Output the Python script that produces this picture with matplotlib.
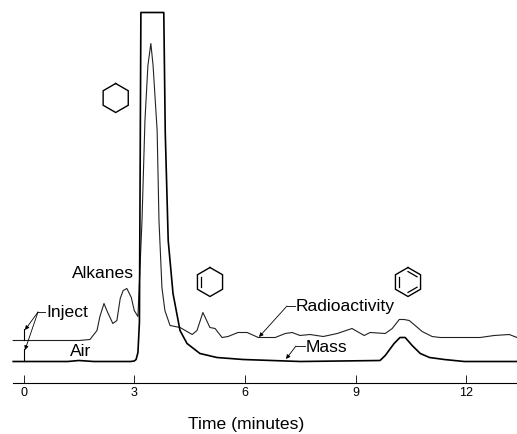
import numpy as np
import matplotlib
matplotlib.use('Agg')
import matplotlib.pyplot as plt

plt.rcParams['font.family'] = ['Liberation Sans', 'DejaVu Sans']

# traces: time in minutes, signal in arbitrary units
mass_time = [-0.28, 1.2, 1.35, 1.5, 1.7, 1.9, 2.9, 3.0, 3.05, 3.1, 3.14, 3.18, 3.8, 3.84, 3.92, 4.05,
             4.24, 4.43, 4.78, 5.24, 5.95, 7.5, 9.66, 9.8, 10.04, 10.2, 10.34, 10.53, 10.75, 11.0,
             11.4, 11.94, 13.37]
mass_signal = [21, 21, 21.5, 22, 21.5, 21, 21, 21.5, 23, 30, 60, 370, 370, 250, 142, 89,
               52, 39, 29, 25, 23, 21, 22, 27, 39, 45, 45, 37, 29, 25,
               23, 21, 21]

radio_time = [-0.28, 1.5, 1.8, 1.99, 2.07, 2.18, 2.28, 2.42, 2.53, 2.62, 2.7, 2.8, 2.92, 3.0, 3.1, 3.21, 3.29,
              3.37, 3.45, 3.51, 3.62, 3.67, 3.75, 3.83, 3.97, 4.24, 4.57, 4.7, 4.86, 5.05, 5.19,
              5.38, 5.54, 5.81, 6.06, 6.36, 6.82, 7.09, 7.28, 7.49, 7.76, 8.12, 8.5, 8.9, 9.04, 9.23,
              9.39, 9.8, 9.99, 10.18, 10.31, 10.45, 10.61, 10.8, 11.07, 11.29, 12.1, 12.37, 12.75,
              13.16, 13.37]
radio_signal = [42, 42, 43, 52, 66, 79, 70, 59, 62, 84, 92, 94, 85, 72, 66, 162, 262,
                317, 339, 317, 252, 162, 95, 72, 57, 55, 48, 52, 70, 55, 54,
                45, 46, 50, 50, 45, 45, 49, 50, 47, 48, 46, 49, 54, 51, 47,
                50, 49, 54, 63, 63, 62, 57, 51, 46, 45, 45, 45, 47,
                48, 45]

time_ticks = [0, 3, 6, 9, 12]

fig = plt.figure(figsize=(5.17, 4.34), dpi=100)

# main axes, time axis at the bottom only
ax = fig.add_axes([13 / 517, (434 - 382.5) / 434, 504 / 517, 382.5 / 434])
ax.plot(radio_time, radio_signal, color='#222222', lw=0.8, clip_on=False)
ax.plot(mass_time, mass_signal, color='black', lw=1.2, clip_on=False)
ax.set_xlim(-0.285, 13.37)
ax.set_ylim(0, 382.5)
ax.set_xticks(time_ticks)
ax.tick_params(axis='x', direction='in', length=6, width=0.6, labelsize=9, pad=3)
ax.set_yticks([])
for side in ['top', 'left', 'right']:
    ax.spines[side].set_visible(False)
ax.spines['bottom'].set_linewidth(0.8)
ax.patch.set_alpha(0)

# overlay in picture pixels for labels and the ring drawings
over = fig.add_axes([0, 0, 1, 1])
over.set_xlim(0, 517)
over.set_ylim(434, 0)
over.axis('off')


def hexagon(cx, cy, r=14.5):
    ang = np.radians(np.arange(-90, 300, 60))
    xs = cx + r * np.cos(ang)
    ys = cy + r * np.sin(ang)
    over.plot(xs, ys, color='black', lw=1.0, solid_joinstyle='miter')
    return xs, ys


def inner_bond(xs, ys, cx, cy, i):
    # short line inside ring side i
    a = np.array([xs[i], ys[i]])
    b = np.array([xs[i + 1], ys[i + 1]])
    c = np.array([cx, cy])
    a2 = c + (a - c) * 0.72
    b2 = c + (b - c) * 0.72
    over.plot([a2[0], b2[0]], [a2[1], b2[1]], color='black', lw=0.9)


hexagon(115.7, 98)
xs, ys = hexagon(210, 282)
inner_bond(xs, ys, 210, 282, 4)
xs, ys = hexagon(408, 282)
for side in [0, 2, 4]:
    inner_bond(xs, ys, 408, 282, side)


def leader(points, tip):
    over.plot([p[0] for p in points], [p[1] for p in points], color='black', lw=0.6)
    over.annotate('', xy=tip, xytext=points[-1],
                  arrowprops=dict(arrowstyle='-|>', color='black', lw=0.6,
                                  mutation_scale=6, shrinkA=0, shrinkB=0))


leader([(45, 312), (38, 312)], (25, 330))
leader([(38, 312), (38, 312)], (25, 350))
over.plot([24, 24], [340, 329], color='black', lw=0.8)
over.plot([24, 24], [361, 349], color='black', lw=0.8)
leader([(295, 306), (287, 306)], (259, 337))
leader([(305, 346), (296, 346)], (286, 359))

labels = [('Alkanes', 72, 273), ('Inject', 46, 313), ('Air', 70, 351),
          ('Radioactivity', 296, 306), ('Mass', 306, 347)]
for name, lx, ly in labels:
    over.text(lx, ly, name, fontsize=12.6, ha='left', va='center', color='black')
over.text(246, 424, 'Time (minutes)', fontsize=12.6, ha='center', va='center', color='black')

fig.savefig('out.png', dpi=100)
